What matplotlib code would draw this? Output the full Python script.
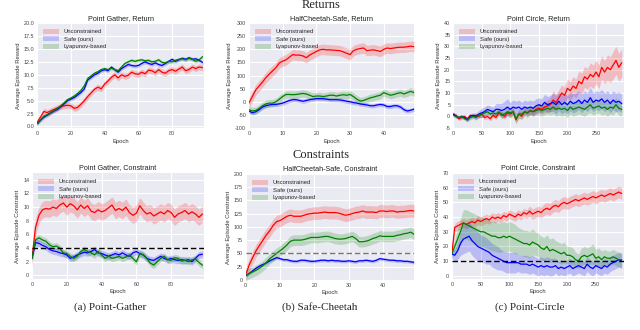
import numpy as np
import matplotlib
matplotlib.use('Agg')
import matplotlib.pyplot as plt

plt.style.use('seaborn-v0_8-darkgrid')

labels = ['Unconstrained', 'Safe (ours)', 'Lyapunov-based']
colors = ['r', 'b', 'g']

# ---- Point Gather (every 2 epochs) ----
pg_x = list(range(0, 100, 2))
pg_ret = [
    [0.8, 1.8, 2.9, 2.7, 3.0, 3.3, 3.6, 3.9, 4.0, 4.1, 4.0, 3.5, 3.7, 4.3, 5.0, 5.8, 6.5, 7.2, 7.6, 7.3,
     8.2, 8.8, 9.5, 10.0, 9.4, 10.0, 9.7, 9.9, 10.5, 10.2, 10.1, 10.5, 10.2, 10.9, 10.8, 10.4, 11.0, 10.5, 10.3, 10.8,
     11.0, 10.7, 11.1, 11.5, 10.8, 11.0, 11.5, 11.2, 11.5, 11.4],
    [0.5, 1.2, 1.8, 2.2, 2.6, 3.0, 3.3, 3.8, 4.4, 5.0, 5.3, 5.6, 6.1, 6.6, 7.3, 9.0, 9.5, 10.0, 10.3, 10.8,
     11.0, 10.8, 11.5, 11.0, 10.5, 11.2, 11.6, 12.0, 11.8, 11.7, 11.8, 12.2, 12.5, 12.2, 12.0, 12.3, 12.0, 11.8, 12.2, 12.6,
     13.0, 12.6, 12.9, 13.2, 13.0, 13.3, 13.0, 13.1, 12.8, 12.4],
    [0.6, 1.3, 2.0, 2.3, 2.7, 3.1, 3.5, 4.0, 4.6, 5.2, 5.5, 5.9, 6.4, 7.0, 7.9, 9.3, 9.8, 10.3, 10.6, 11.0,
     11.2, 11.0, 11.3, 11.0, 10.8, 11.5, 12.2, 12.5, 12.8, 12.6, 12.8, 12.9, 12.7, 12.8, 12.5, 12.6, 12.9, 12.4, 12.3, 12.6,
     12.5, 12.8, 13.0, 13.1, 12.9, 13.2, 13.0, 12.6, 12.9, 13.5],
]
pg_ret_band = [0.6, 0.35, 0.35]

pg_con = [
    [2.5, 7.0, 8.8, 9.6, 9.8, 9.7, 10.0, 9.8, 10.3, 10.6, 10.0, 10.5, 10.2, 9.6, 10.3, 9.8, 10.2, 9.4, 9.2, 9.6,
     9.3, 9.5, 9.9, 10.3, 9.5, 9.8, 9.5, 10.0, 9.2, 8.8, 9.1, 10.2, 9.5, 9.0, 9.2, 8.7, 9.0, 9.3, 9.0, 9.5,
     9.2, 8.5, 9.0, 9.2, 9.5, 9.0, 9.3, 9.0, 8.5, 9.0],
    [2.5, 4.8, 4.7, 4.4, 4.2, 3.8, 3.6, 3.5, 3.3, 3.2, 3.0, 2.5, 2.7, 3.0, 3.2, 3.4, 3.3, 3.5, 3.8, 3.3,
     3.2, 3.0, 2.8, 3.0, 3.2, 3.0, 3.3, 3.0, 2.8, 3.3, 3.5, 3.2, 3.0, 2.5, 2.3, 2.2, 2.5, 2.8, 2.5, 2.3,
     2.5, 2.3, 2.2, 2.3, 2.2, 2.3, 2.0, 2.5, 3.0, 3.1],
    [2.5, 5.2, 5.5, 5.2, 5.0, 4.5, 4.2, 4.3, 4.0, 3.3, 3.2, 2.8, 2.5, 2.8, 3.5, 3.8, 3.5, 3.3, 3.0, 3.5,
     3.0, 2.5, 2.8, 2.5, 2.6, 2.8, 2.5, 2.7, 3.0, 2.5, 2.0, 3.2, 3.0, 2.5, 1.8, 1.5, 2.0, 2.5, 2.8, 2.3,
     2.2, 2.6, 2.5, 2.1, 2.2, 2.0, 2.3, 2.4, 1.9, 1.5],
]
pg_con_band = [1.2, 0.5, 0.5]
pg_limit = 4

# ---- HalfCheetah-Safe (every epoch) ----
hc_x = list(range(50))
hc_ret = [
    [-5, 20, 45, 60, 75, 92, 105, 118, 130, 148, 155, 160, 170, 180, 178, 178, 175, 168, 178, 185,
     192, 198, 200, 198, 198, 197, 196, 195, 190, 185, 180, 195, 200, 203, 205, 195, 197, 198, 195, 192,
     200, 205, 203, 205, 207, 208, 208, 210, 212, 210],
    [-35, -42, -38, -30, -20, -15, -12, -10, -10, -8, -5, 0, 5, 8, 8, 5, 2, 5, 8, 10,
     12, 12, 12, 10, 8, 8, 8, 7, 5, 2, 0, -3, -5, -8, -10, -12, -15, -15, -12, -10,
     -12, -18, -18, -15, -15, -20, -30, -35, -32, -28],
    [-30, -35, -33, -25, -15, -8, -5, -5, 0, 10, 20, 28, 28, 27, 28, 30, 32, 30, 25, 20,
     22, 22, 20, 22, 25, 25, 22, 25, 27, 25, 28, 20, 10, 3, 5, 10, 15, 18, 22, 25,
     35, 30, 25, 28, 32, 35, 30, 35, 40, 35],
]
hc_ret_band = [20, 8, 14]

hc_con = [
    [10, 28, 42, 55, 65, 75, 85, 93, 103, 110, 112, 116, 120, 122, 120, 120, 120, 122, 124, 125,
     126, 126, 127, 128, 127, 127, 127, 126, 124, 122, 123, 125, 127, 128, 130, 128, 128, 128, 127, 130,
     130, 129, 130, 130, 128, 129, 129, 130, 131, 130],
    [8, 12, 17, 22, 26, 29, 32, 36, 39, 42, 40, 38, 38, 36, 35, 35, 37, 37, 36, 35,
     35, 36, 37, 37, 36, 37, 36, 36, 35, 35, 36, 35, 34, 36, 36, 37, 36, 35, 37, 40,
     39, 38, 37, 37, 36, 36, 35, 35, 34, 33],
    [8, 12, 15, 18, 22, 27, 33, 40, 45, 50, 55, 60, 66, 73, 75, 75, 75, 76, 78, 80,
     80, 80, 81, 82, 82, 80, 78, 77, 77, 78, 80, 82, 78, 72, 72, 73, 75, 78, 80, 83,
     82, 82, 82, 82, 84, 85, 87, 88, 90, 86],
]
hc_con_band = [12, 3, 10]
hc_limit = 50

# ---- Point Circle (every 5 epochs) ----
pc_x = list(range(0, 300, 5))
pc_ret = [
    [1, 0.5, -1, -0.5, 0, -1, 0.5, 0, 0.5, 0, 1, -0.5, 0, -1, 0.5, -0.5, 1.5, 1, 0, 1.5,
     1, 2, -1.5, 1, 0, 2, 1.5, 2.5, 2, 3, 3.5, 3, 4, 4.5, 5, 7, 6, 8, 10, 9,
     12, 11, 13, 12, 15, 14, 17, 16, 18, 17, 19, 17, 21, 19, 21, 20, 22, 24, 21, 23],
    [1, 0, -0.5, 0, -0.5, -1.5, 0, 0.5, 0, 1, 1.5, 2, 3, 2.5, 2, 3, 3, 2.5, 3, 4,
     3, 4, 3.5, 4, 3, 4, 3.5, 4, 3.5, 4.5, 5, 4.5, 6, 5, 5.5, 6, 5, 6.5, 5, 6,
     5, 6.5, 5.5, 6, 7, 5.5, 7, 6, 8, 6, 7, 6.5, 7.5, 6, 7, 5.5, 7, 6, 6.5, 5.5],
    [0.5, 0, -0.5, 0, -1, -1.5, -0.5, 0, -0.5, 0.5, 1, 1.5, 2, 1, 1.5, 1, 2, 0.5, 1, 2,
     1.5, 2, -1, 1, 1, 2, 1.5, 2.5, 2, 2.5, 3, 2.5, 3, 3.5, 3, 4, 3, 3.5, 3, 3.5,
     2.5, 4, 3, 3.5, 4, 3.5, 3, 4, 5, 3.5, 4, 4.5, 3.5, 4, 3, 4, 3.5, 5, 3.5, 3],
]
pc_ret_band = [
    [0.8, 0.8, 0.8, 0.8, 0.8, 0.8, 0.8, 0.8, 0.8, 0.8, 1, 1, 1, 1, 1, 1, 1.2, 1.2, 1.2, 1.2,
     1.5, 1.5, 1.5, 1.5, 1.5, 1.5, 1.5, 1.8, 1.8, 2, 2, 2, 2.5, 2.5, 3, 4, 3.5, 3.5, 3.5, 3.5,
     4, 4, 4, 4, 4.5, 4.5, 4.5, 4.5, 5, 5, 5, 5, 5, 5, 5.5, 5.5, 6, 6, 6, 6],
    [0.8, 0.8, 0.8, 0.8, 0.8, 0.8, 1, 1, 1.5, 1.5, 2, 2, 2, 2, 2, 2.5, 2.5, 3, 3.5, 3.5,
     3, 3, 3, 3, 3, 3, 3, 3, 3, 3, 3, 3, 3.5, 3.5, 3.5, 4, 4, 4, 4, 4,
     4, 4, 4, 4, 4, 4, 4, 4, 4.5, 4, 4, 4, 4, 4, 4, 4, 4, 4, 4, 4],
    [0.8, 0.8, 0.8, 0.8, 0.8, 0.8, 1, 1, 1, 1, 1.5, 1.5, 1.5, 1.5, 1.5, 1.5, 1.5, 1.5, 1.5, 2,
     2, 2, 2, 2, 2, 2, 2, 2, 2, 2, 2.5, 2.5, 2.5, 2.5, 2.5, 3, 3, 3, 3, 3,
     3, 3, 3, 3, 3, 3, 3, 3, 3.5, 3, 3, 3, 3, 3, 3, 3, 3, 3, 3, 3],
]

pc_con = [
    [15, 33, 34, 35, 36, 35, 36, 37, 36, 38, 37, 38, 39, 38, 40, 39, 40, 39, 41, 40,
     42, 41, 40, 42, 41, 43, 42, 44, 42, 43, 44, 43, 45, 46, 45, 47, 48, 47, 49, 50,
     49, 50, 51, 52, 51, 52, 53, 52, 53, 54, 53, 54, 55, 54, 55, 56, 55, 56, 57, 56],
    [15, 14, 17, 22, 25, 26, 27, 24, 22, 20, 19, 18, 17, 16, 14, 13, 12, 11, 10, 9,
     9, 9, 9, 9, 8, 8, 8, 7, 8, 7, 6, 7, 6, 7, 6, 6, 7, 5, 6, 5,
     6, 7, 5, 6, 7, 6, 5, 8, 6, 5, 7, 6, 5, 7, 6, 8, 9, 10, 11, 10],
    [15, 20, 25, 30, 36, 35, 34, 33, 32, 31, 30, 30, 29, 28, 27, 27, 26, 26, 27, 26,
     27, 26, 25, 24, 23, 22, 22, 21, 23, 22, 21, 19, 18, 20, 17, 18, 17, 16, 15, 16,
     14, 14, 13, 11, 10, 13, 14, 13, 14, 15, 12, 13, 11, 13, 12, 12, 13, 12, 11, 11],
]
pc_con_band = [
    [3, 3, 3, 3, 3, 3, 3, 3, 3, 3, 3, 3, 3, 3, 3, 3, 3, 3, 3, 3,
     3, 3, 3, 3, 3, 3, 3, 3.5, 3.5, 3.5, 3.5, 3.5, 4, 4, 4, 4, 4, 4, 4, 4,
     4, 4, 4, 4, 4, 4, 4, 4, 4, 4, 4, 4, 4, 4, 4, 4, 4, 4, 4, 4],
    [3, 4, 6, 8, 10, 10, 10, 10, 10, 10, 9, 9, 9, 8, 8, 8, 8, 7, 7, 7,
     7, 7, 7, 6, 6, 6, 6, 6, 6, 6, 6, 6, 6, 6, 6, 6, 5, 5, 5, 5,
     5, 5, 5, 5, 5, 5, 5, 5, 5, 5, 5, 5, 5, 5, 5, 5, 5, 5, 5, 5],
    [3, 5, 7, 9, 9, 10, 10, 10, 10, 10, 10, 10, 10, 10, 10, 10, 10, 10, 10, 10,
     10, 10, 10, 9, 9, 9, 9, 9, 9, 8, 8, 8, 8, 8, 8, 8, 7, 7, 7, 7,
     6, 6, 6, 5, 5, 6, 6, 6, 6, 7, 6, 6, 6, 5, 5, 5, 5, 5, 5, 5],
]
pc_limit = 10

fig = plt.figure(figsize=(6.4, 3.3), dpi=100)


def panel(rect, x, means, bands, title, ylabel, xlim, ylim, xticks, yticks, yfmt, limit=None, limcolor='k'):
    ax = fig.add_axes(rect)
    x = np.array(x)
    for m, b, c, lab in zip(means, bands, colors, labels):
        m = np.array(m, dtype=float)
        b = np.array(b, dtype=float)
        ax.fill_between(x, m - b, m + b, color=c, alpha=0.2, lw=0, label=lab)
        ax.plot(x, m, color=c, lw=0.9)
    if limit is not None:
        ax.axhline(limit, color=limcolor, ls='--', lw=1.0, dashes=(4, 2))
    ax.set_xlim(*xlim)
    ax.set_ylim(*ylim)
    ax.set_xticks(xticks)
    ax.set_yticks(yticks)
    ax.set_yticklabels([yfmt.format(v) for v in yticks])
    ax.tick_params(labelsize=3.9, pad=2, colors='#444444')
    ax.set_title(title, fontsize=5.2, pad=2.5, color='#222222')
    ax.set_xlabel('Epoch', fontsize=4.2, labelpad=2, color='#333333')
    ax.set_ylabel(ylabel, fontsize=4.2, labelpad=2, color='#333333')
    ax.grid(color='white', lw=0.8)
    ax.legend(loc='upper left', fontsize=4.2, frameon=False, handlelength=2.8,
              handleheight=0.9, borderaxespad=0.6, labelspacing=0.35)
    return ax


ret_lab = 'Average Episode Reward'
con_lab = 'Average Episode Constraint'

panel([0.058, 0.612, 0.261, 0.318], pg_x, pg_ret, pg_ret_band, 'Point Gather, Return', ret_lab,
      (0, 99), (-0.3, 20), [0, 20, 40, 60, 80], list(np.arange(0, 20.1, 2.5)), '{:.1f}')
panel([0.389, 0.612, 0.258, 0.318], hc_x, hc_ret, hc_ret_band, 'HalfCheetah-Safe, Return', ret_lab,
      (0, 49), (-100, 300), [0, 10, 20, 30, 40], list(range(-100, 301, 50)), '{:.0f}')
panel([0.708, 0.612, 0.267, 0.318], pc_x, pc_ret, pc_ret_band, 'Point Circle, Return', ret_lab,
      (0, 299), (-5, 40), [0, 50, 100, 150, 200, 250], list(range(-5, 41, 5)), '{:.0f}')

panel([0.050, 0.155, 0.269, 0.321], pg_x, pg_con, pg_con_band, 'Point Gather, Constraint', con_lab,
      (0, 99), (-0.5, 15), [0, 20, 40, 60, 80], list(range(0, 15, 2)), '{:.0f}', limit=pg_limit)
panel([0.384, 0.152, 0.263, 0.321], hc_x, hc_con, hc_con_band, 'HalfCheetah-Safe, Constraint', con_lab,
      (0, 49), (0, 200), [0, 10, 20, 30, 40], list(range(0, 201, 25)), '{:.0f}', limit=hc_limit, limcolor='#777777')
panel([0.706, 0.155, 0.269, 0.321], pc_x, pc_con, pc_con_band, 'Point Circle, Constraint', con_lab,
      (0, 299), (-2, 70), [0, 50, 100, 150, 200, 250], list(range(0, 71, 10)), '{:.0f}', limit=pc_limit)

serif = 'Liberation Serif'
fig.text(0.502, 0.985, 'Returns', ha='center', va='center', fontsize=9, family=serif)
fig.text(0.502, 0.530, 'Constraints', ha='center', va='center', fontsize=9, family=serif)
fig.text(0.172, 0.070, '(a) Point-Gather', ha='center', va='center', fontsize=8, family=serif)
fig.text(0.500, 0.070, '(b) Safe-Cheetah', ha='center', va='center', fontsize=8, family=serif)
fig.text(0.828, 0.070, '(c) Point-Circle', ha='center', va='center', fontsize=8, family=serif)

fig.savefig('out.png', dpi=100, facecolor='white')
